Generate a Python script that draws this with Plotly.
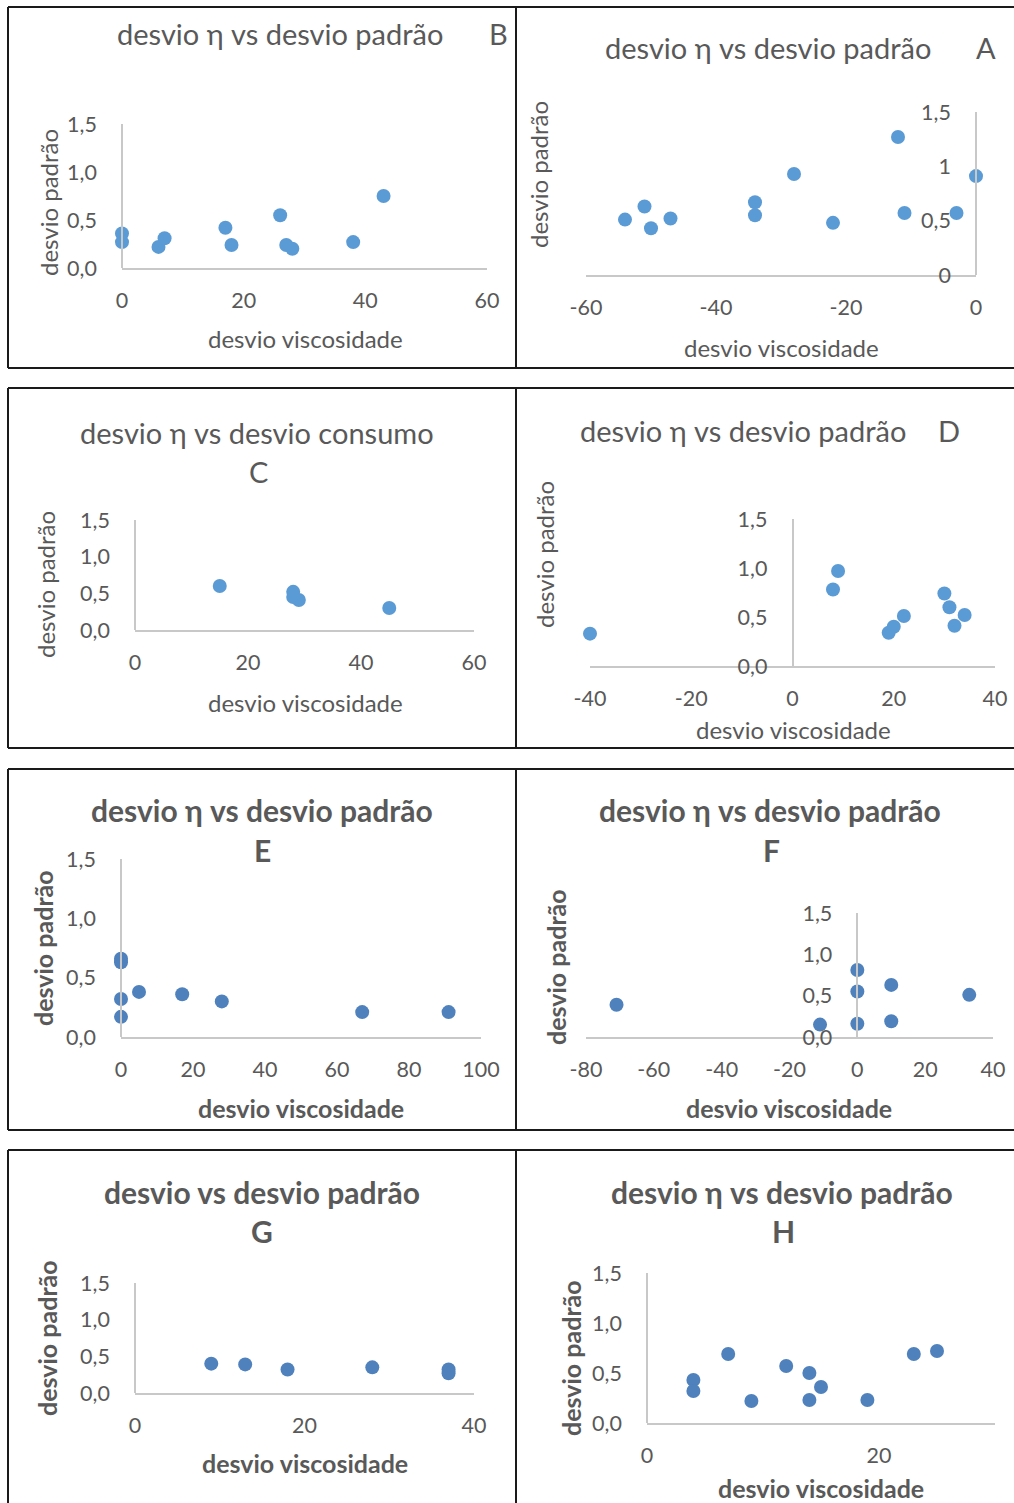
import plotly.graph_objects as go

W, H = 1014, 1503

# ---- data: desvio viscosidade (x) vs desvio padrão (y), one pair per panel ----
B_X = [0, 0, 6, 7, 17, 18, 26, 27, 28, 38, 43]
B_Y = [0.36, 0.27, 0.22, 0.31, 0.42, 0.24, 0.55, 0.24, 0.20, 0.27, 0.75]

A_X = [-54, -51, -50, -47, -34, -34, -28, -22, -12, -11, -3, 0]
A_Y = [0.51, 0.63, 0.43, 0.52, 0.67, 0.55, 0.93, 0.48, 1.27, 0.57, 0.57, 0.91]

C_X = [15, 28, 28, 29, 45]
C_Y = [0.60, 0.52, 0.45, 0.41, 0.30]

D_X = [-40, 8, 9, 19, 20, 22, 30, 31, 32, 34]
D_Y = [0.33, 0.78, 0.97, 0.34, 0.40, 0.51, 0.74, 0.60, 0.41, 0.52]

E_X = [0, 0, 0, 0, 5, 17, 28, 67, 91]
E_Y = [0.66, 0.63, 0.32, 0.17, 0.38, 0.36, 0.30, 0.21, 0.21]

F_X = [-71, -11, 0, 0, 0, 10, 10, 33]
F_Y = [0.39, 0.15, 0.81, 0.55, 0.16, 0.63, 0.19, 0.51]

G_X = [9, 13, 18, 28, 37, 37]
G_Y = [0.40, 0.39, 0.32, 0.35, 0.32, 0.27]

H_X = [4, 4, 7, 9, 12, 14, 14, 15, 19, 23, 25]
H_Y = [0.43, 0.32, 0.69, 0.22, 0.57, 0.50, 0.23, 0.36, 0.23, 0.69, 0.72]

# ---- axis ranges and tick labels ----
B_XRANGE = [0, 60]
B_XTICKS = [0, 20, 40, 60]
B_XTEXT = ["0", "20", "40", "60"]
A_XRANGE = [-60, 0]
A_XTICKS = [-60, -40, -20, 0]
A_XTEXT = ["-60", "-40", "-20", "0"]
C_XRANGE = [0, 60]
C_XTICKS = [0, 20, 40, 60]
C_XTEXT = ["0", "20", "40", "60"]
D_XRANGE = [-40, 40]
D_XTICKS = [-40, -20, 0, 20, 40]
D_XTEXT = ["-40", "-20", "0", "20", "40"]
E_XRANGE = [0, 100]
E_XTICKS = [0, 20, 40, 60, 80, 100]
E_XTEXT = ["0", "20", "40", "60", "80", "100"]
F_XRANGE = [-80, 40]
F_XTICKS = [-80, -60, -40, -20, 0, 20, 40]
F_XTEXT = ["-80", "-60", "-40", "-20", "0", "20", "40"]
G_XRANGE = [0, 40]
G_XTICKS = [0, 20, 40]
G_XTEXT = ["0", "20", "40"]
H_XRANGE = [0, 30]
H_XTICKS = [0, 20]
H_XTEXT = ["0", "20"]

Y_RANGE = [0, 1.5]
Y_TICKS = [0, 0.5, 1.0, 1.5]
Y_TEXT = ["0,0", "0,5", "1,0", "1,5"]
A_YTEXT = ["0", "0,5", "1", "1,5"]

TITLE_ETA = "desvio η vs desvio padrão"
TITLE_CONSUMO = "desvio η vs desvio consumo"
TITLE_PLAIN = "desvio vs desvio padrão"
X_TITLE = "desvio viscosidade"
Y_TITLE = "desvio padrão"

# ---- styling ----
FONT = "Lato, 'Noto Sans', 'DejaVu Sans', sans-serif"
TEXT = "#595959"
AXIS = "#C8C8C8"
BLUE_A = "#5B9BD5"
BLUE_B = "#4F81BD"


def px_x(v):
    return v / W


def px_y(v):
    return 1 - v / H


# plot-area boxes in pixels: (left, right, top, bottom)
panels = [
    dict(x=B_X, y=B_Y, xr=B_XRANGE, xt=B_XTICKS, xtt=B_XTEXT, ytt=Y_TEXT,
         box=(122, 487, 124, 268), color=BLUE_A, bold=False,
         title=TITLE_ETA, tpos=(280, 33), letter="B", lpos=(498, 33),
         xtitle=(305, 339), ytitle=(48, 203)),
    dict(x=A_X, y=A_Y, xr=A_XRANGE, xt=A_XTICKS, xtt=A_XTEXT, ytt=A_YTEXT,
         box=(586, 976, 112, 275), color=BLUE_A, bold=False,
         title=TITLE_ETA, tpos=(768, 48), letter="A", lpos=(986, 48),
         xtitle=(781, 347), ytitle=(539, 175)),
    dict(x=C_X, y=C_Y, xr=C_XRANGE, xt=C_XTICKS, xtt=C_XTEXT, ytt=Y_TEXT,
         box=(135, 474, 520, 630), color=BLUE_A, bold=False,
         title=TITLE_CONSUMO, tpos=(257, 432), letter="C", lpos=(258, 471),
         xtitle=(305, 702), ytitle=(45, 585)),
    dict(x=D_X, y=D_Y, xr=D_XRANGE, xt=D_XTICKS, xtt=D_XTEXT, ytt=Y_TEXT,
         box=(590, 995, 519, 666), color=BLUE_A, bold=False,
         title=TITLE_ETA, tpos=(743, 430), letter="D", lpos=(949, 430),
         xtitle=(793, 730), ytitle=(544, 555)),
    dict(x=E_X, y=E_Y, xr=E_XRANGE, xt=E_XTICKS, xtt=E_XTEXT, ytt=Y_TEXT,
         box=(121, 481, 859, 1037), color=BLUE_B, bold=True,
         title=TITLE_ETA, tpos=(262, 810), letter="E", lpos=(262, 850),
         xtitle=(301, 1108), ytitle=(43, 948)),
    dict(x=F_X, y=F_Y, xr=F_XRANGE, xt=F_XTICKS, xtt=F_XTEXT, ytt=Y_TEXT,
         box=(586, 993, 913, 1037), color=BLUE_B, bold=True,
         title=TITLE_ETA, tpos=(770, 810), letter="F", lpos=(771, 850),
         xtitle=(789, 1108), ytitle=(556, 967)),
    dict(x=G_X, y=G_Y, xr=G_XRANGE, xt=G_XTICKS, xtt=G_XTEXT, ytt=Y_TEXT,
         box=(135, 474, 1283, 1393), color=BLUE_B, bold=True,
         title=TITLE_PLAIN, tpos=(262, 1192), letter="G", lpos=(262, 1231),
         xtitle=(305, 1463), ytitle=(47, 1338)),
    dict(x=H_X, y=H_Y, xr=H_XRANGE, xt=H_XTICKS, xtt=H_XTEXT, ytt=Y_TEXT,
         box=(647, 995, 1273, 1423), color=BLUE_B, bold=True,
         title=TITLE_ETA, tpos=(782, 1192), letter="H", lpos=(783, 1231),
         xtitle=(821, 1488), ytitle=(571, 1358)),
]

fig = go.Figure()
layout = dict(
    width=W, height=H,
    margin=dict(l=0, r=0, t=0, b=0, pad=0, autoexpand=False),
    paper_bgcolor="white", plot_bgcolor="rgba(0,0,0,0)",
    showlegend=False,
    separators=",.",
    font=dict(family=FONT, color=TEXT),
)
annotations = []
shapes = []

for i, p in enumerate(panels, start=1):
    sfx = "" if i == 1 else str(i)
    left, right, top, bottom = p["box"]
    xdom = [px_x(left), px_x(right)]
    ydom = [px_y(bottom), px_y(top)]
    x0, x1 = p["xr"]
    # the vertical axis crosses the horizontal one at x = 0
    ypos = xdom[0] + (0 - x0) / (x1 - x0) * (xdom[1] - xdom[0])

    fig.add_trace(go.Scatter(
        x=p["x"], y=p["y"], mode="markers",
        xaxis="x" + sfx, yaxis="y" + sfx,
        marker=dict(size=14, color=p["color"]),
        cliponaxis=False, hoverinfo="x+y",
    ))

    tick_font = dict(size=21.5, color=TEXT, family=FONT)
    layout["xaxis" + sfx] = dict(
        domain=xdom, range=p["xr"], anchor="y" + sfx,
        tickmode="array", tickvals=p["xt"], ticktext=p["xtt"],
        showline=True, linecolor=AXIS, linewidth=1.5,
        showgrid=False, zeroline=False, ticks="",
        ticklabelstandoff=12, tickfont=tick_font, fixedrange=True,
        automargin=False,
    )
    layout["yaxis" + sfx] = dict(
        domain=ydom, range=Y_RANGE, anchor="free", position=ypos,
        tickmode="array", tickvals=Y_TICKS, ticktext=p["ytt"],
        showline=True, linecolor=AXIS, linewidth=1.5,
        showgrid=False, zeroline=False, ticks="",
        ticklabelstandoff=20, tickfont=tick_font, fixedrange=True,
        automargin=False,
    )

    if p["bold"]:
        wrap = lambda s: "<b>" + s + "</b>"
        tsize, asize = 30, 25
    else:
        wrap = lambda s: s
        tsize, asize = 29, 24

    def note(text, pos, size, angle=0):
        annotations.append(dict(
            text=text, x=px_x(pos[0]), y=px_y(pos[1]),
            xref="paper", yref="paper", showarrow=False, textangle=angle,
            xanchor="center", yanchor="middle",
            font=dict(size=size, color=TEXT, family=FONT),
        ))

    note(wrap(p["title"]), p["tpos"], tsize)
    note(wrap(p["letter"]), p["lpos"], tsize)
    note(wrap(X_TITLE), p["xtitle"], asize)
    note(wrap(Y_TITLE), p["ytitle"], asize, angle=-90)


# frame lines around each chart, kept inside the page
def seg(xa, ya, xb, yb):
    shapes.append(dict(
        type="line", xref="paper", yref="paper",
        x0=px_x(xa), y0=px_y(ya), x1=px_x(xb), y1=px_y(yb),
        line=dict(color="#1A1A1A", width=2), layer="above",
    ))


for top, bottom in [(7, 368), (388, 748), (769, 1130), (1150, None)]:
    yb = bottom if bottom is not None else H
    seg(8, top, W, top)                # top edge, both columns
    seg(8, top, 8, yb)                 # left edge
    seg(516, top, 516, yb)             # divider between columns
    if bottom is not None:
        seg(8, bottom, W, bottom)      # bottom edge

layout["annotations"] = annotations
layout["shapes"] = shapes
fig.update_layout(**layout)
fig.write_html("out.html", config=dict(displayModeBar=False))
